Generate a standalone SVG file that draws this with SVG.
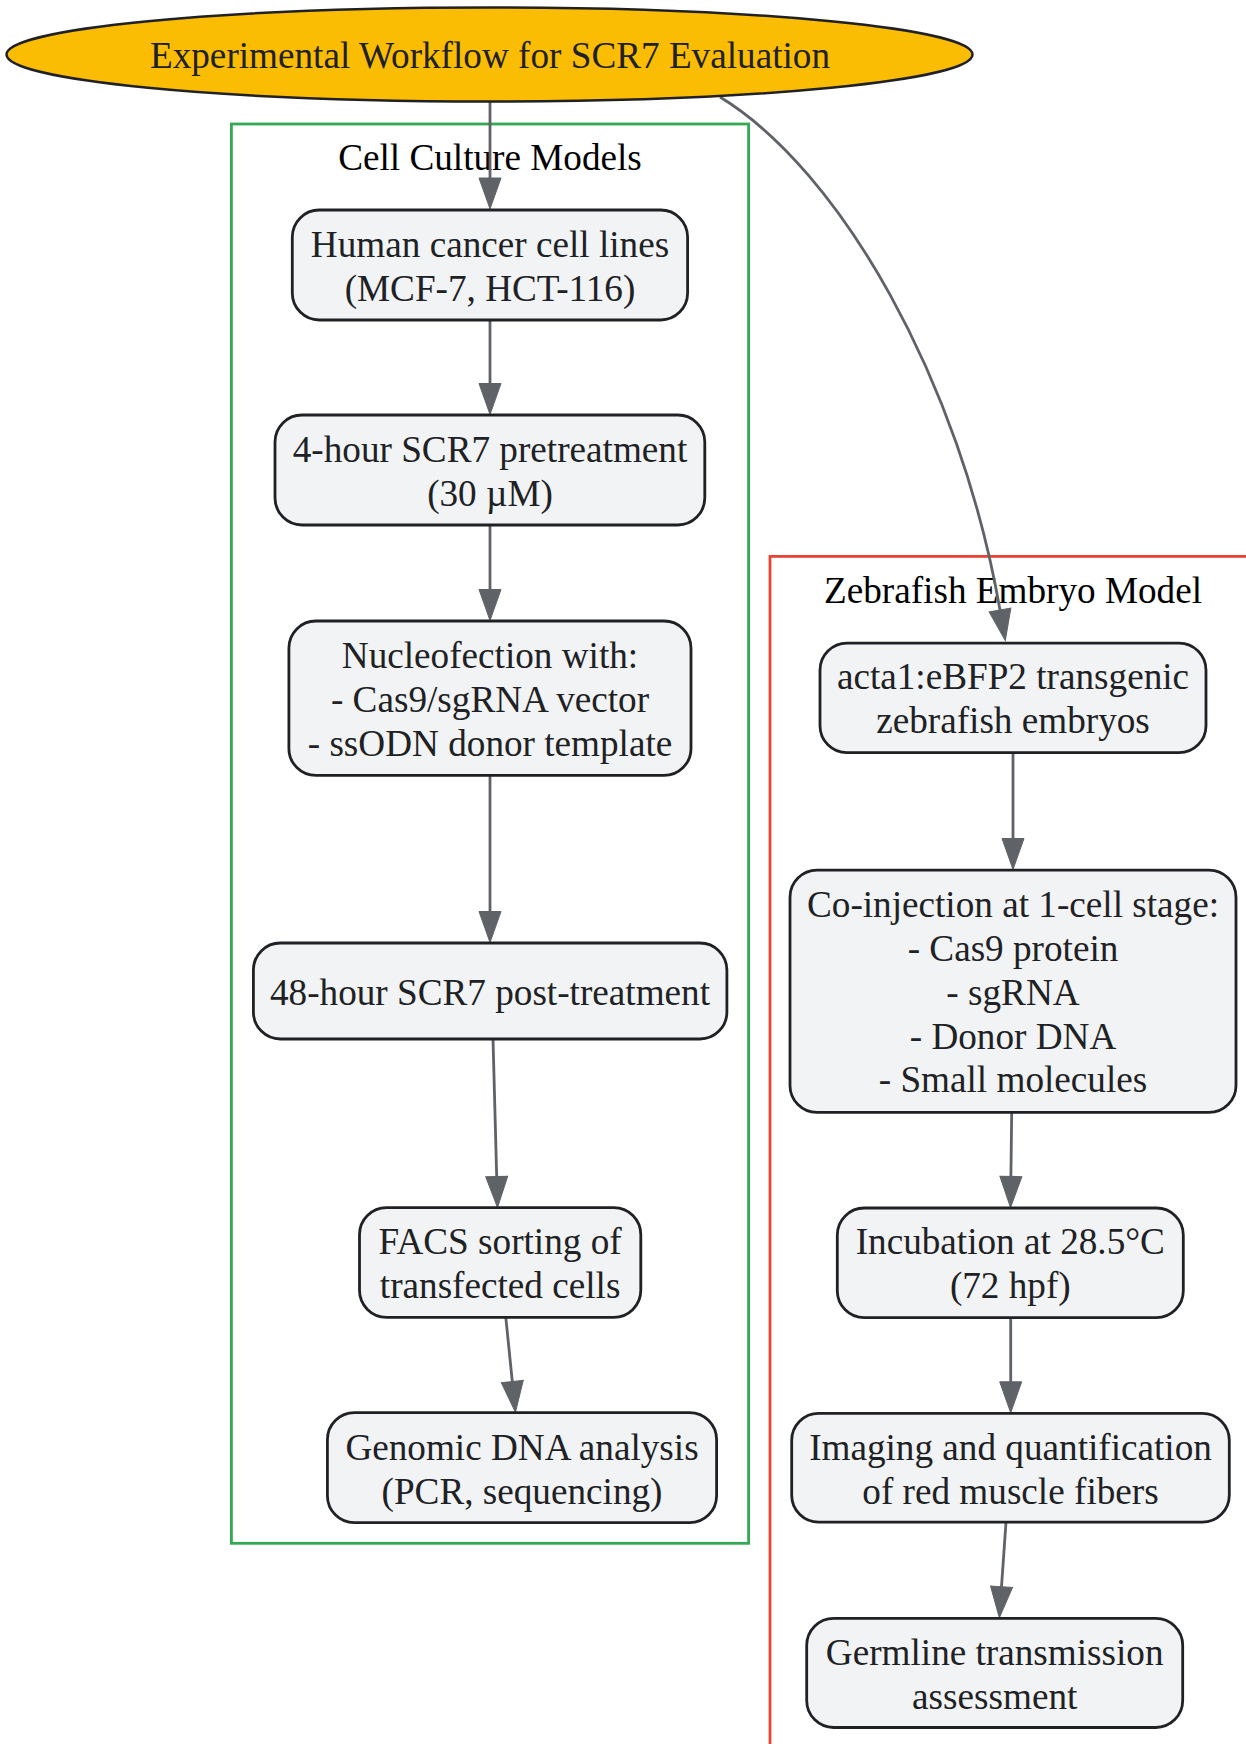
<svg xmlns="http://www.w3.org/2000/svg" width="1246" height="1744" viewBox="0 0 1246 1744">
<defs>
<marker id="arr" markerUnits="userSpaceOnUse" markerWidth="32" markerHeight="23" refX="0" refY="11" orient="auto" overflow="visible">
<path d="M0,0 L31,11 L0,22 z" fill="#5F6368" stroke="#5F6368" stroke-width="1"/>
</marker>
<style>
text{font-family:"Liberation Serif","Times New Roman",serif;font-size:37.2px;text-anchor:middle}
.node rect{fill:#F1F3F4;stroke:#202124;stroke-width:2.8}
.node text{fill:#202124}
.cl{fill:none;stroke-width:2.8}
.cl-label{fill:#000000}
.edge{fill:none;stroke:#5F6368;stroke-width:2.8;marker-end:url(#arr)}
</style>
</defs>
<rect width="1246" height="1744" fill="#ffffff"/>
<g id="cluster_cell">
<rect class="cl" x="231.4" y="124" width="517.2" height="1419.3" stroke="#34A853"/>
<text class="cl-label" x="490" y="170">Cell Culture Models</text>
</g>
<g id="cluster_zebrafish">
<rect class="cl" x="770" y="556.4" width="520" height="1250" stroke="#EA4335"/>
<text class="cl-label" x="1013" y="603.4">Zebrafish Embryo Model</text>
</g>
<g id="connectors">
<path class="edge" d="M490,102 L490,178"/>
<path class="edge" d="M490,320 L490,383.5"/>
<path class="edge" d="M490,525 L490,589.5"/>
<path class="edge" d="M490,775.4 L490,911.5"/>
<path class="edge" d="M493,1039 L496.7,1176.5"/>
<path class="edge" d="M505.8,1317.3 L512.3,1381.5"/>
<path class="edge" d="M720,97 C840,170 960,380 1000,610"/>
<path class="edge" d="M1013,752.7 L1013,838.5"/>
<path class="edge" d="M1011.7,1112.4 L1010.9,1176.5"/>
<path class="edge" d="M1010.7,1317.7 L1010.7,1381.8"/>
<path class="edge" d="M1006,1522.2 L1001.5,1586.8"/>
</g>
<g id="start" class="node">
<ellipse cx="489.5" cy="54.5" rx="483" ry="47" fill="#FBBC04" stroke="#202124" stroke-width="2.5"/>
<text x="490" y="67.5">Experimental Workflow for SCR7 Evaluation</text>
</g>
<g id="cell_lines" class="node">
<rect x="292.3" y="210" width="395.3" height="110" rx="27" ry="27"/>
<text x="490" y="256.5">Human cancer cell lines</text>
<text x="490" y="301">(MCF-7, HCT-116)</text>
</g>
<g id="pretreat" class="node">
<rect x="275" y="415" width="429.8" height="110" rx="27" ry="27"/>
<text x="490" y="461.5">4-hour SCR7 pretreatment</text>
<text x="490" y="505.5">(30 µM)</text>
</g>
<g id="nucleofection" class="node">
<rect x="288.9" y="621" width="402.1" height="154.4" rx="27" ry="27"/>
<text x="490" y="667.5">Nucleofection with:</text>
<text x="490" y="711.5">- Cas9/sgRNA vector</text>
<text x="490" y="755.5">- ssODN donor template</text>
</g>
<g id="posttreat" class="node">
<rect x="253.4" y="943" width="473.5" height="96" rx="27" ry="27"/>
<text x="490" y="1004.5">48-hour SCR7 post-treatment</text>
</g>
<g id="facs" class="node">
<rect x="359.5" y="1207.7" width="281.3" height="109.6" rx="27" ry="27"/>
<text x="500.1" y="1253.8">FACS sorting of</text>
<text x="500.1" y="1297.8">transfected cells</text>
</g>
<g id="genomic" class="node">
<rect x="327.4" y="1412.7" width="389.2" height="110" rx="27" ry="27"/>
<text x="522" y="1459.5">Genomic DNA analysis</text>
<text x="522" y="1503.5">(PCR, sequencing)</text>
</g>
<g id="embryos" class="node">
<rect x="820" y="643.2" width="386" height="109.5" rx="27" ry="27"/>
<text x="1013" y="689.3">acta1:eBFP2 transgenic</text>
<text x="1013" y="733.3">zebrafish embryos</text>
</g>
<g id="coinjection" class="node">
<rect x="790" y="870.2" width="446" height="242.2" rx="27" ry="27"/>
<text x="1013" y="916.8">Co-injection at 1-cell stage:</text>
<text x="1013" y="960.7">- Cas9 protein</text>
<text x="1013" y="1004.6">- sgRNA</text>
<text x="1013" y="1048.5">- Donor DNA</text>
<text x="1013" y="1092.4">- Small molecules</text>
</g>
<g id="incubation" class="node">
<rect x="837.3" y="1208" width="346" height="109.7" rx="27" ry="27"/>
<text x="1010.3" y="1254">Incubation at 28.5°C</text>
<text x="1010.3" y="1298.2">(72 hpf)</text>
</g>
<g id="imaging" class="node">
<rect x="791.7" y="1413.3" width="437.6" height="108.9" rx="27" ry="27"/>
<text x="1010.5" y="1460">Imaging and quantification</text>
<text x="1010.5" y="1504">of red muscle fibers</text>
</g>
<g id="germline" class="node">
<rect x="806.7" y="1618.3" width="376" height="109.2" rx="27" ry="27"/>
<text x="994.7" y="1664.5">Germline transmission</text>
<text x="994.7" y="1708.5">assessment</text>
</g>
</svg>
